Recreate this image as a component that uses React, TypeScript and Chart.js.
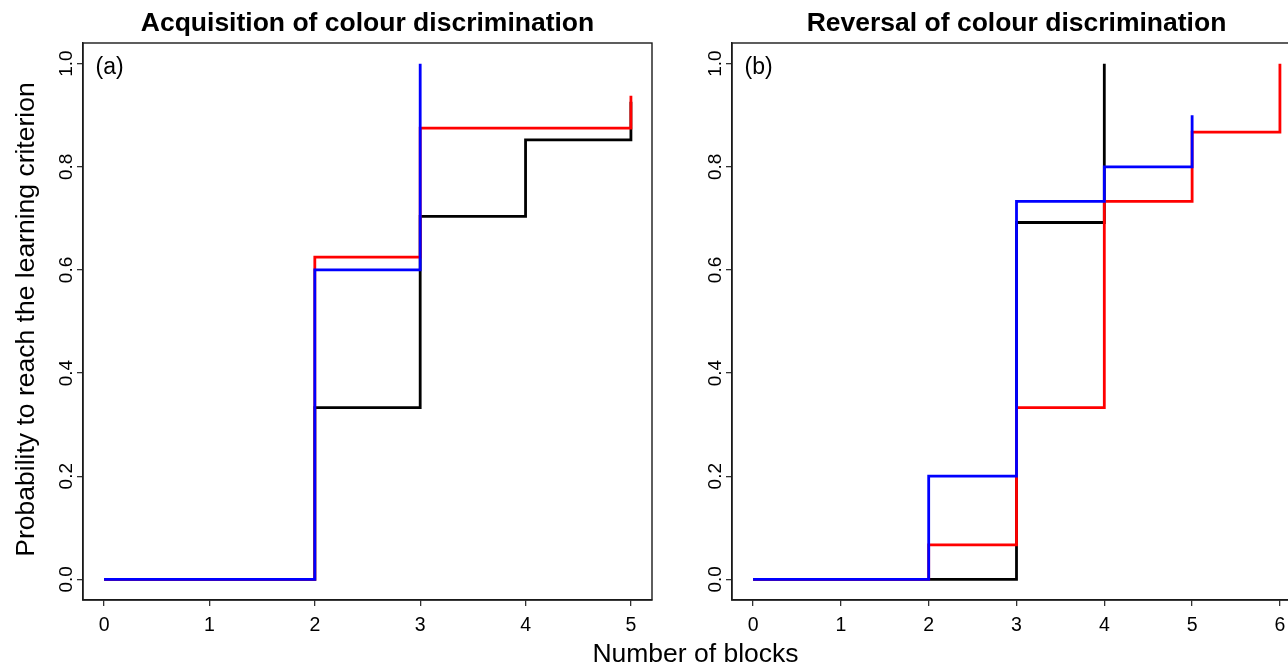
import React, { useEffect, useRef } from "react";
import { Chart, registerables } from "chart.js";

Chart.register(...registerables);

const FONT = "'Liberation Sans', Arial, Helvetica, sans-serif";

// ---- data ----
const A_X_TICKS = [0, 1, 2, 3, 4, 5];
const B_X_TICKS = [0, 1, 2, 3, 4, 5, 6];
const Y_TICKS = [0, 0.2, 0.4, 0.6, 0.8, 1.0];
const Y_TICK_LABELS = ["0.0", "0.2", "0.4", "0.6", "0.8", "1.0"];

const A_BLACK_X = [0, 2, 3, 4, 5];
const A_BLACK_Y = [0, 0.333, 0.704, 0.852, 0.926];
const A_RED_X = [0, 2, 3, 5];
const A_RED_Y = [0, 0.625, 0.875, 0.9375];
const A_BLUE_X = [0, 2, 3];
const A_BLUE_Y = [0, 0.6, 1.0];

const B_BLACK_X = [0, 3, 4];
const B_BLACK_Y = [0, 0.692, 1.0];
const B_RED_X = [0, 2, 3, 4, 5, 6];
const B_RED_Y = [0, 0.067, 0.333, 0.733, 0.867, 1.0];
const B_BLUE_X = [0, 2, 3, 4, 5];
const B_BLUE_Y = [0, 0.2, 0.733, 0.8, 0.9];

const TITLE_A = "Acquisition of colour discrimination";
const TITLE_B = "Reversal of colour discrimination";
const LETTER_A = "(a)";
const LETTER_B = "(b)";
const X_TITLE = "Number of blocks";
const Y_TITLE = "Probability to reach the learning criterion";

const zip = (xs: number[], ys: number[]) => xs.map((x, i) => ({ x, y: ys[i] }));

function series(xs: number[], ys: number[], color: string) {
  return {
    data: zip(xs, ys),
    borderColor: color,
    backgroundColor: color,
    borderWidth: 2.8,
    pointRadius: 0,
    stepped: "before" as const,
    fill: false,
    tension: 0,
  };
}

type PanelCfg = {
  canvas: HTMLCanvasElement;
  datasets: any[];
  xTicks: number[];
  xMin: number;
  xMax: number;
  title: string;
  letter: string;
  yWidth: number;
  padRight: number;
  extra?: (ctx: CanvasRenderingContext2D, chart: any) => void;
};

function makePanel(cfg: PanelCfg) {
  const panelPlugin = {
    id: "panelDecor",
    afterDraw(chart: any) {
      const ctx: CanvasRenderingContext2D = chart.ctx;
      const { left, right, top, bottom } = chart.chartArea;
      ctx.save();
      // box
      ctx.strokeStyle = "#1a1a1a";
      ctx.lineWidth = 1.4;
      ctx.strokeRect(left, top, right - left, bottom - top);
      // rotated y tick labels
      const ys = chart.scales.y;
      ctx.fillStyle = "#000";
      ctx.font = `19px ${FONT}`;
      ctx.textAlign = "center";
      ctx.textBaseline = "alphabetic";
      Y_TICKS.forEach((v, i) => {
        const py = ys.getPixelForValue(v);
        ctx.save();
        ctx.translate(left - 11, py);
        ctx.rotate(-Math.PI / 2);
        ctx.fillText(Y_TICK_LABELS[i], 0, 0);
        ctx.restore();
      });
      // title
      ctx.font = `bold 26.5px ${FONT}`;
      ctx.textAlign = "center";
      ctx.fillText(cfg.title, (left + right) / 2, 31);
      // panel letter
      ctx.font = `23px ${FONT}`;
      ctx.textAlign = "left";
      ctx.fillText(cfg.letter, left + 12.5, top + 31);
      if (cfg.extra) cfg.extra(ctx, chart);
      ctx.restore();
    },
  };

  return new Chart(cfg.canvas, {
    type: "line",
    data: { datasets: cfg.datasets },
    options: {
      animation: false,
      responsive: false,
      devicePixelRatio: 1,
      layout: { padding: { left: 0, right: cfg.padRight, top: 43, bottom: 0 } },
      plugins: { legend: { display: false }, tooltip: { enabled: false }, title: { display: false } },
      scales: {
        x: {
          type: "linear",
          min: cfg.xMin,
          max: cfg.xMax,
          afterBuildTicks: (s: any) => {
            s.ticks = cfg.xTicks.map((v) => ({ value: v }));
          },
          afterFit: (s: any) => {
            s.height = 67;
          },
          ticks: {
            color: "#000",
            font: { family: FONT, size: 19.5 },
            padding: 8,
            maxRotation: 0,
            autoSkip: false,
            callback: (v: any) => String(v),
          },
          grid: {
            display: true,
            drawOnChartArea: false,
            drawTicks: true,
            tickLength: 6,
            color: "#333",
            lineWidth: 1.3,
          },
          border: { display: true, color: "#1a1a1a", width: 1.4 },
        },
        y: {
          type: "linear",
          min: -0.04,
          max: 1.04,
          afterBuildTicks: (s: any) => {
            s.ticks = Y_TICKS.map((v) => ({ value: v }));
          },
          afterFit: (s: any) => {
            s.width = cfg.yWidth;
          },
          ticks: {
            color: "rgba(0,0,0,0)",
            font: { family: FONT, size: 19 },
            autoSkip: false,
          },
          grid: {
            display: true,
            drawOnChartArea: false,
            drawTicks: true,
            tickLength: 6,
            color: "#333",
            lineWidth: 1.3,
          },
          border: { display: true, color: "#1a1a1a", width: 1.4 },
        },
      },
    } as any,
    plugins: [panelPlugin],
  });
}

export default function App() {
  const refA = useRef<HTMLCanvasElement>(null);
  const refB = useRef<HTMLCanvasElement>(null);

  useEffect(() => {
    const chartA = makePanel({
      canvas: refA.current!,
      datasets: [
        series(A_BLUE_X, A_BLUE_Y, "#0000ff"),
        series(A_RED_X, A_RED_Y, "#ff0000"),
        series(A_BLACK_X, A_BLACK_Y, "#000000"),
      ],
      xTicks: A_X_TICKS,
      xMin: -0.2,
      xMax: 5.2,
      title: TITLE_A,
      letter: LETTER_A,
      yWidth: 83,
      padRight: 820 - 652,
      extra: (ctx, chart) => {
        const { top, bottom } = chart.chartArea;
        ctx.fillStyle = "#000";
        ctx.font = `26.5px ${FONT}`;
        ctx.textAlign = "center";
        ctx.textBaseline = "alphabetic";
        ctx.fillText(X_TITLE, 695.5, 662);
        ctx.save();
        ctx.translate(34, (top + bottom) / 2 - 2);
        ctx.rotate(-Math.PI / 2);
        ctx.fillText(Y_TITLE, 0, 0);
        ctx.restore();
      },
    });
    const chartB = makePanel({
      canvas: refB.current!,
      datasets: [
        series(B_BLUE_X, B_BLUE_Y, "#0000ff"),
        series(B_RED_X, B_RED_Y, "#ff0000"),
        series(B_BLACK_X, B_BLACK_Y, "#000000"),
      ],
      xTicks: B_X_TICKS,
      xMin: -0.24,
      xMax: 6.24,
      title: TITLE_B,
      letter: LETTER_B,
      yWidth: 42,
      padRight: 29,
    });
    return () => {
      chartA.destroy();
      chartB.destroy();
    };
  }, []);

  return (
    <div
      style={{
        position: "fixed",
        left: 0,
        top: 0,
        width: 1288,
        height: 667,
        overflow: "hidden",
        background: "#fff",
      }}
    >
      <canvas ref={refA} width={820} height={667} style={{ position: "absolute", left: 0, top: 0 }} />
      <canvas ref={refB} width={640} height={667} style={{ position: "absolute", left: 690, top: 0 }} />
    </div>
  );
}
